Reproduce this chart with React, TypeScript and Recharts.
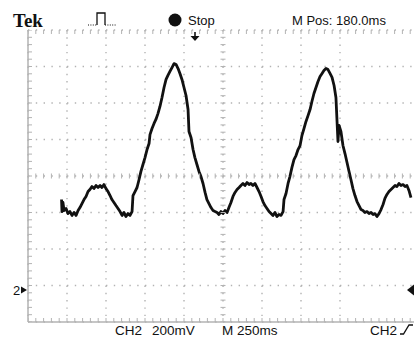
import React from 'react'
import { ComposedChart, Line, Scatter, XAxis, YAxis, CartesianGrid, ReferenceLine } from 'recharts'

// trace, CH2 (ms from left edge of screen, mV)
const WAVE_MS = [
  215, 218, 224, 231, 244, 256, 269, 282, 295, 308,
  321, 333, 346, 359, 372, 385, 397, 410, 423, 436,
  449, 462, 474, 487, 500, 513, 526, 538, 551, 564,
  577, 590, 603, 615, 628, 641, 654, 667, 673, 686,
  699, 712, 724, 737, 750, 763, 776, 782, 795, 808,
  820, 833, 846, 859, 872, 885, 897, 910, 923, 936,
  949, 962, 974, 987, 1000, 1013, 1026, 1032, 1045, 1058,
  1070, 1083, 1096, 1109, 1122, 1135, 1147, 1160, 1173, 1186,
  1199, 1212, 1224, 1237, 1250, 1263, 1276, 1288, 1301, 1314,
  1327, 1340, 1353, 1365, 1378, 1391, 1404, 1417, 1429, 1442,
  1455, 1468, 1481, 1494, 1506, 1519, 1532, 1545, 1558, 1570,
  1583, 1596, 1609, 1622, 1635, 1641, 1654, 1667, 1679, 1692,
  1705, 1718, 1731, 1744, 1756, 1769, 1782, 1795, 1808, 1820,
  1833, 1846, 1859, 1872, 1885, 1897, 1910, 1923, 1936, 1949,
  1962, 1974, 1987, 1994, 2006, 2019, 2032, 2045, 2058, 2070,
  2083, 2096, 2109, 2122, 2135, 2147, 2160, 2173, 2186, 2199,
  2212, 2224, 2237, 2250, 2263, 2276, 2288, 2301, 2314, 2327,
  2340, 2353, 2365, 2378, 2391, 2404, 2417, 2429, 2442, 2455,
]
const WAVE_MV = [
  471, 405, 455, 411, 422, 394, 405, 384, 400, 384,
  411, 427, 449, 471, 488, 515, 526, 542, 531, 548,
  537, 548, 537, 553, 531, 515, 493, 471, 455, 438,
  422, 405, 384, 400, 378, 394, 384, 405, 493, 515,
  537, 581, 625, 663, 701, 745, 778, 827, 860, 888,
  910, 942, 981, 1030, 1085, 1129, 1151, 1173, 1194, 1216,
  1211, 1189, 1162, 1129, 1085, 1041, 964, 844, 811, 745,
  701, 663, 625, 597, 559, 510, 471, 449, 427, 411,
  405, 400, 389, 405, 394, 411, 400, 427, 455, 488,
  510, 526, 537, 548, 559, 548, 564, 553, 559, 548,
  559, 537, 515, 488, 460, 438, 422, 405, 394, 384,
  400, 378, 389, 384, 405, 471, 504, 559, 597, 647,
  690, 712, 745, 767, 822, 860, 899, 931, 964, 1008,
  1052, 1085, 1118, 1145, 1162, 1178, 1189, 1183, 1162, 1140,
  1096, 1030, 789, 877, 844, 767, 723, 674, 625, 581,
  531, 493, 460, 438, 416, 411, 400, 405, 394, 400,
  389, 394, 378, 394, 416, 444, 477, 499, 515, 526,
  537, 548, 542, 559, 548, 553, 542, 548, 521, 482,
]

// graticule: 10 x 250ms, 8 x 200mV
const MAJOR_MS = [0, 250, 500, 750, 1000, 1250, 1500, 1750, 2000, 2250, 2500]
const MAJOR_MV = [-200, 0, 200, 400, 600, 800, 1000, 1200, 1400]
const MINOR_MS = [
  0, 50, 100, 150, 200, 250, 300, 350, 400, 450, 500, 550, 600, 650, 700, 750, 800, 850, 900, 950,
  1000, 1050, 1100, 1150, 1200, 1250, 1300, 1350, 1400, 1450, 1500, 1550, 1600, 1650, 1700, 1750,
  1800, 1850, 1900, 1950, 2000, 2050, 2100, 2150, 2200, 2250, 2300, 2350, 2400, 2450, 2500,
]
const MINOR_MV = [
  -200, -160, -120, -80, -40, 0, 40, 80, 120, 160, 200, 240, 280, 320, 360, 400, 440, 480, 520, 560,
  600, 640, 680, 720, 760, 800, 840, 880, 920, 960, 1000, 1040, 1080, 1120, 1160, 1200, 1240, 1280,
  1320, 1360, 1400,
]
const CENTER_MS = 1250
const CENTER_MV = 600

const GRID = '#b3b3b3'
const FONT = '"Liberation Sans", Arial, sans-serif'

const wave = WAVE_MS.map((t, i) => ({ t, v: WAVE_MV[i] }))
const hTicks = (v: number) => MINOR_MS.map((t) => ({ t, v }))
const vTicks = (t: number) => MINOR_MV.map((v) => ({ t, v }))

const tick = (dx1: number, dy1: number, dx2: number, dy2: number) => (p: any) => (
  <line x1={p.cx + dx1} y1={p.cy + dy1} x2={p.cx + dx2} y2={p.cy + dy2} stroke={GRID} strokeWidth={1} />
)

function Scope() {
  return (
    <ComposedChart width={420} height={337} margin={{ top: 30, right: 2, bottom: 15, left: 28 }}>
      <XAxis type="number" dataKey="t" domain={[0, 2500]} ticks={MAJOR_MS} allowDataOverflow hide />
      <YAxis type="number" domain={[-200, 1400]} ticks={MAJOR_MV} allowDataOverflow hide />
      <CartesianGrid horizontal={false} stroke={GRID} strokeWidth={1.4} strokeDasharray="1.4 5.9" />
      <CartesianGrid vertical={false} stroke={GRID} strokeWidth={1.4} strokeDasharray="1.4 6.4" />
      <ReferenceLine x={0} stroke={GRID} strokeWidth={1.5} />
      <ReferenceLine y={-200} stroke={GRID} strokeWidth={1.5} />
      <Scatter data={hTicks(CENTER_MV)} dataKey="v" shape={tick(0, -2.5, 0, 2.5)} isAnimationActive={false} />
      <Scatter data={vTicks(CENTER_MS)} dataKey="v" shape={tick(-2.5, 0, 2.5, 0)} isAnimationActive={false} />
      <Scatter data={vTicks(0)} dataKey="v" shape={tick(0, 0, 4, 0)} isAnimationActive={false} />
      <Scatter data={hTicks(-200)} dataKey="v" shape={tick(0, 0, 0, -4)} isAnimationActive={false} />
      <Scatter data={hTicks(1400)} dataKey="v" shape={tick(0, 0, 0, 4)} isAnimationActive={false} />
      <Line
        data={wave}
        dataKey="v"
        type="linear"
        stroke="#111"
        strokeWidth={2.8}
        strokeLinejoin="round"
        dot={false}
        isAnimationActive={false}
      />
    </ComposedChart>
  )
}

export default function App() {
  return (
    <div style={{ position: 'absolute', left: 0, top: 0, width: 414, height: 337, overflow: 'hidden', background: '#fff' }}>
      <Scope />
      <svg width={414} height={337} style={{ position: 'absolute', left: 0, top: 0, pointerEvents: 'none' }}>
        <text x={13} y={27} fontFamily='"Liberation Serif", serif' fontWeight="bold" fontSize={19} fill="#111">
          Tek
        </text>
        <path d="M88 25 L97 25" stroke="#111" strokeWidth={1.2} strokeDasharray="1 1.4" />
        <path d="M97 25 L97 13 L105 13 L105 25" stroke="#111" strokeWidth={1.3} fill="none" />
        <path d="M105 25 L117 25" stroke="#111" strokeWidth={1.2} strokeDasharray="1 1.4" />
        <circle cx={175} cy={20} r={6.5} fill="#111" />
        <text x={188} y={25} fontFamily={FONT} fontSize={13} fill="#111">Stop</text>
        <text x={292} y={25} fontFamily={FONT} fontSize={13} fill="#111">M Pos: 180.0ms</text>
        <path d="M195 32 L195 37" stroke="#111" strokeWidth={1.6} />
        <path d="M190.5 36 L199.5 36 L195 41 Z" fill="#111" />
        <text x={13} y={295} fontFamily={FONT} fontSize={13} fill="#111">2</text>
        <path d="M21 286.5 L27 290 L21 293.5 Z" fill="#111" />
        <path d="M414 284.5 L407 290 L414 295.5 Z" fill="#111" />
        <text x={115} y={335} fontFamily={FONT} fontSize={13.5} fill="#111">CH2</text>
        <text x={152} y={335} fontFamily={FONT} fontSize={13.5} fill="#111">200mV</text>
        <text x={222} y={335} fontFamily={FONT} fontSize={13.5} fill="#111">M 250ms</text>
        <text x={370} y={335} fontFamily={FONT} fontSize={13.5} fill="#111">CH2</text>
        <path d="M400 334 L403.5 334 L409 325 L413 325" stroke="#111" strokeWidth={1.3} fill="none" />
      </svg>
    </div>
  )
}
